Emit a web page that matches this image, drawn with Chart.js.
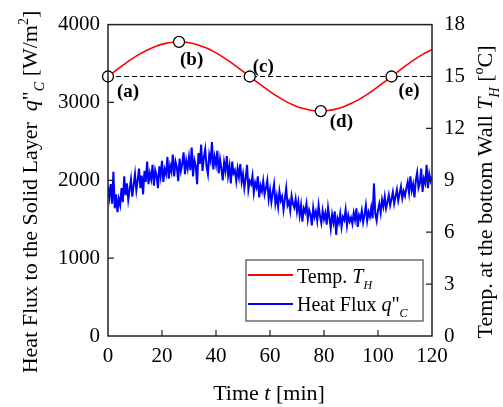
<!DOCTYPE html>
<html lang="en">
<head>
<meta charset="UTF-8">
<title>Heat flux / wall temperature</title>
<script src="https://cdn.jsdelivr.net/npm/chart.js"></script>
<style>
  html, body { margin: 0; padding: 0; background: #fff; }
</style>
</head>
<body>
<canvas id="grafico" width="503" height="407"></canvas>
<script>
// temperature of the bottom wall T_H, read every 3 min
const tempTime = [0, 3, 6, 9, 12, 15, 18, 21, 24, 27, 30, 33, 36, 39, 42, 45, 48, 51, 54, 57, 60,
                  63, 66, 69, 72, 75, 78, 81, 84, 87, 90, 93, 96, 99, 102, 105, 108, 111, 114, 117, 120];
const tempValues = [15.00, 15.36, 15.70, 16.03, 16.32, 16.56, 16.76, 16.90, 16.98, 17.00, 16.95,
                    16.84, 16.67, 16.45, 16.18, 15.87, 15.53, 15.18, 14.82, 14.47, 14.13,
                    13.82, 13.55, 13.33, 13.16, 13.05, 13.00, 13.02, 13.10, 13.24, 13.44,
                    13.68, 13.97, 14.30, 14.64, 15.00, 15.36, 15.70, 16.03, 16.32, 16.56];

// heat flux q"_C, read every 0.5 min (t = 0 ... 120)
const fluxStep = 0.5;
const fluxValues = [
  1920, 1780, 1950, 1700, 2110, 1640, 1820, 1590, 1760, 1680, 1900, 1720, 2050, 1810, 1960, 1750, 1880, 2010, 1790, 1940,
  2080, 1870, 2000, 2150, 1900, 2060, 1820, 2120, 1980, 2240, 1950, 2090, 2010, 2200, 1930, 2130, 2060, 1900, 2180, 2050,
  2250, 1980, 2140, 2080, 2300, 2020, 2190, 2110, 2330, 2050, 2240, 2170, 1990, 2280, 2120, 2210, 2360, 2080, 2250, 2150,
  2300, 2130, 2420, 2050, 2260, 2190, 1950, 2350, 2210, 2460, 2120, 2290, 2400, 2180, 2080, 2330, 2250, 2490, 2140, 2300,
  2200, 2380, 2090, 2270, 2150, 2000, 2230, 2120, 2310, 2060, 2180, 1960, 2240, 2090, 2130, 1990, 2150, 2040, 2210, 1980,
  2080, 1900, 2030, 2200, 1880, 1990, 1950, 2060, 1840, 1970, 1910, 2050, 1780, 1930, 1860, 1990, 1820, 1900, 2000, 1760,
  1880, 1720, 1840, 1950, 1700, 1800, 1660, 1860, 1740, 1790, 1620, 1760, 1900, 1680, 1730, 1610, 1800, 1700, 1650, 1760,
  1600, 1720, 1550, 1680, 1470, 1640, 1590, 1700, 1500, 1620, 1560, 1420, 1650, 1530, 1600, 1480, 1680, 1540, 1450, 1610,
  1500, 1580, 1430, 1650, 1520, 1380, 1560, 1460, 1600, 1300, 1510, 1450, 1570, 1400, 1530, 1490, 1620, 1420, 1550, 1470,
  1520, 1440, 1580, 1490, 1640, 1400, 1550, 1500, 1610, 1460, 1560, 1680, 1480, 1590, 1530, 1650, 1510, 1960, 1570, 1480,
  1620, 1700, 1580, 1750, 1660, 1790, 1640, 1720, 1810, 1680, 1760, 1850, 1700, 1790, 1880, 1740, 1830, 1920, 1770, 1860,
  1800, 1900, 1980, 1840, 2050, 1870, 1950, 1780, 2000, 2100, 1900, 1960, 2150, 1850, 2020, 1960, 2200, 1900, 2080, 1990,
  2050
];

// instants (a)-(e) marked on the temperature curve
const markTime = [0, 26.3, 52.5, 78.8, 105];
const markTemp = [15, 17, 15, 13, 15];
const markNames = ['(a)', '(b)', '(c)', '(d)', '(e)'];
const refTemp = 15;

// ticks
const xTicks = [0, 20, 40, 60, 80, 100, 120];
const fluxTicks = [0, 1000, 2000, 3000, 4000];
const tempTicks = [0, 3, 6, 9, 12, 15, 18];

const SERIF = '"Liberation Serif", "Times New Roman", serif';
// label offsets (px) from each marker circle
const markOffset = [[9, 20], [1, 23], [3, -5], [9, 16], [7, 19]];

function fontOf(p, size) {
  const s = (p.sub || p.sup) ? Math.round(size * 0.62) : size;
  return (p.it ? 'italic ' : '') + (p.b ? 'bold ' : '') + s + 'px ' + SERIF;
}

// text with italic parts, sub- and superscripts
function drawRich(ctx, parts, x, y, size, align) {
  let total = 0;
  parts.forEach(p => { ctx.font = fontOf(p, size); p.w = ctx.measureText(p.t).width; total += p.w; });
  let cx = align == 'left' ? x : x - total / 2;
  ctx.textAlign = 'left';
  ctx.textBaseline = 'alphabetic';
  parts.forEach(p => {
    ctx.font = fontOf(p, size);
    const dy = p.sub ? size * 0.3 : (p.sup ? -size * 0.42 : 0);
    ctx.fillText(p.t, cx, y + dy);
    cx += p.w;
  });
}

const decoracao = {
  id: 'decoracao',
  afterDraw(chart) {
    const ctx = chart.ctx;
    const a = chart.chartArea;
    const sx = chart.scales.x, sl = chart.scales.yFlux, sr = chart.scales.yTemp;
    ctx.save();
    ctx.fillStyle = '#000';
    ctx.strokeStyle = '#222';
    ctx.lineWidth = 1.5;
    // frame
    ctx.strokeRect(a.left, a.top, a.right - a.left, a.bottom - a.top);
    // inward ticks
    ctx.lineWidth = 1.2;
    ctx.beginPath();
    xTicks.slice(1, -1).forEach(v => {
      const px = sx.getPixelForValue(v);
      ctx.moveTo(px, a.bottom); ctx.lineTo(px, a.bottom - 6);
    });
    fluxTicks.slice(1, -1).forEach(v => {
      const py = sl.getPixelForValue(v);
      ctx.moveTo(a.left, py); ctx.lineTo(a.left + 6, py);
    });
    tempTicks.slice(1, -1).forEach(v => {
      const py = sr.getPixelForValue(v);
      ctx.moveTo(a.right, py); ctx.lineTo(a.right - 6, py);
    });
    ctx.stroke();

    // marker labels
    ctx.font = 'bold 19px ' + SERIF;
    ctx.textAlign = 'left';
    ctx.textBaseline = 'alphabetic';
    markTime.forEach((t, i) => {
      const px = sx.getPixelForValue(t), py = sr.getPixelForValue(markTemp[i]);
      ctx.fillText(markNames[i], px + markOffset[i][0], py + markOffset[i][1]);
    });

    // axis titles
    drawRich(ctx, [{ t: 'Time ' }, { t: 't', it: true }, { t: ' [min]' }], 269, 400, 22);

    ctx.save();
    ctx.translate(37, 192);
    ctx.rotate(-Math.PI / 2);
    drawRich(ctx, [{ t: 'Heat Flux to the Solid Layer  ' }, { t: 'q', it: true }, { t: '"' },
      { t: 'C', it: true, sub: true }, { t: ' [W/m' }, { t: '2', sup: true }, { t: ']' }], 0, 0, 22);
    ctx.restore();

    ctx.save();
    ctx.translate(492, 192);
    ctx.rotate(-Math.PI / 2);
    drawRich(ctx, [{ t: 'Temp. at the bottom Wall ' }, { t: 'T', it: true }, { t: 'H', it: true, sub: true },
      { t: ' [' }, { t: 'o', sup: true }, { t: 'C]' }], 0, 0, 22);
    ctx.restore();

    // legend
    const lx = 246, ly = 260, lw = 177, lh = 61;
    ctx.fillStyle = '#fff';
    ctx.fillRect(lx, ly, lw, lh);
    ctx.strokeStyle = '#555';
    ctx.lineWidth = 1.3;
    ctx.strokeRect(lx, ly, lw, lh);
    ctx.lineWidth = 2;
    ctx.strokeStyle = '#ff0000';
    ctx.beginPath(); ctx.moveTo(lx + 2, 275); ctx.lineTo(293, 275); ctx.stroke();
    ctx.strokeStyle = '#0000ff';
    ctx.beginPath(); ctx.moveTo(lx + 2, 304); ctx.lineTo(293, 304); ctx.stroke();
    ctx.fillStyle = '#000';
    drawRich(ctx, [{ t: 'Temp. ' }, { t: 'T', it: true }, { t: 'H', it: true, sub: true }], 297, 283, 20, 'left');
    drawRich(ctx, [{ t: 'Heat Flux ' }, { t: 'q', it: true }, { t: '"' }, { t: 'C', it: true, sub: true }], 297, 311, 20, 'left');
    ctx.restore();
  }
};

const fluxData = fluxValues.map((v, i) => ({ x: i * fluxStep, y: v }));
const tempData = tempTime.map((t, i) => ({ x: t, y: tempValues[i] }));
const markData = markTime.map((t, i) => ({ x: t, y: markTemp[i] }));
const refData = [{ x: xTicks[0], y: refTemp }, { x: xTicks[xTicks.length - 1], y: refTemp }];

const tickFont = { family: SERIF, size: 21 };
const plainLabel = v => String(v);

new Chart(document.getElementById('grafico'), {
  type: 'line',
  data: {
    datasets: [
      {
        label: 'marks', data: markData, yAxisID: 'yTemp', showLine: false, clip: false,
        pointRadius: 5.5, pointBorderWidth: 1.3, pointBorderColor: '#000', pointBackgroundColor: '#fff'
      },
      {
        label: 'ref', data: refData, yAxisID: 'yTemp', borderColor: '#000', borderWidth: 1.2,
        borderDash: [5, 3], pointRadius: 0
      },
      {
        label: 'Temp. T_H', data: tempData, yAxisID: 'yTemp', borderColor: '#ff0000', borderWidth: 1.6,
        pointRadius: 0, tension: 0.4
      },
      {
        label: 'Heat Flux q"_C', data: fluxData, yAxisID: 'yFlux', borderColor: '#0000ff', borderWidth: 2,
        pointRadius: 0, tension: 0
      }
    ]
  },
  options: {
    responsive: false,
    animation: false,
    devicePixelRatio: 1,
    layout: { padding: { top: 14, left: 0, right: 0, bottom: 0 } },
    plugins: { legend: { display: false }, tooltip: { enabled: false } },
    scales: {
      x: {
        type: 'linear', min: 0, max: 120,
        afterFit: s => { s.height = 71; },
        afterBuildTicks: s => { s.ticks = xTicks.map(v => ({ value: v })); },
        grid: { display: false, drawTicks: false },
        border: { display: false },
        ticks: { font: tickFont, color: '#000', padding: 8, maxRotation: 0, callback: plainLabel }
      },
      yFlux: {
        position: 'left', min: 0, max: 4000,
        afterFit: s => { s.width = 108; },
        afterBuildTicks: s => { s.ticks = fluxTicks.map(v => ({ value: v })); },
        grid: { display: false, drawTicks: false },
        border: { display: false },
        ticks: { font: tickFont, color: '#000', padding: 8, callback: plainLabel }
      },
      yTemp: {
        position: 'right', min: 0, max: 18,
        afterFit: s => { s.width = 71; },
        afterBuildTicks: s => { s.ticks = tempTicks.map(v => ({ value: v })); },
        grid: { display: false, drawTicks: false },
        border: { display: false },
        ticks: { font: tickFont, color: '#000', padding: 12, callback: plainLabel }
      }
    }
  },
  plugins: [decoracao]
});
</script>
</body>
</html>
